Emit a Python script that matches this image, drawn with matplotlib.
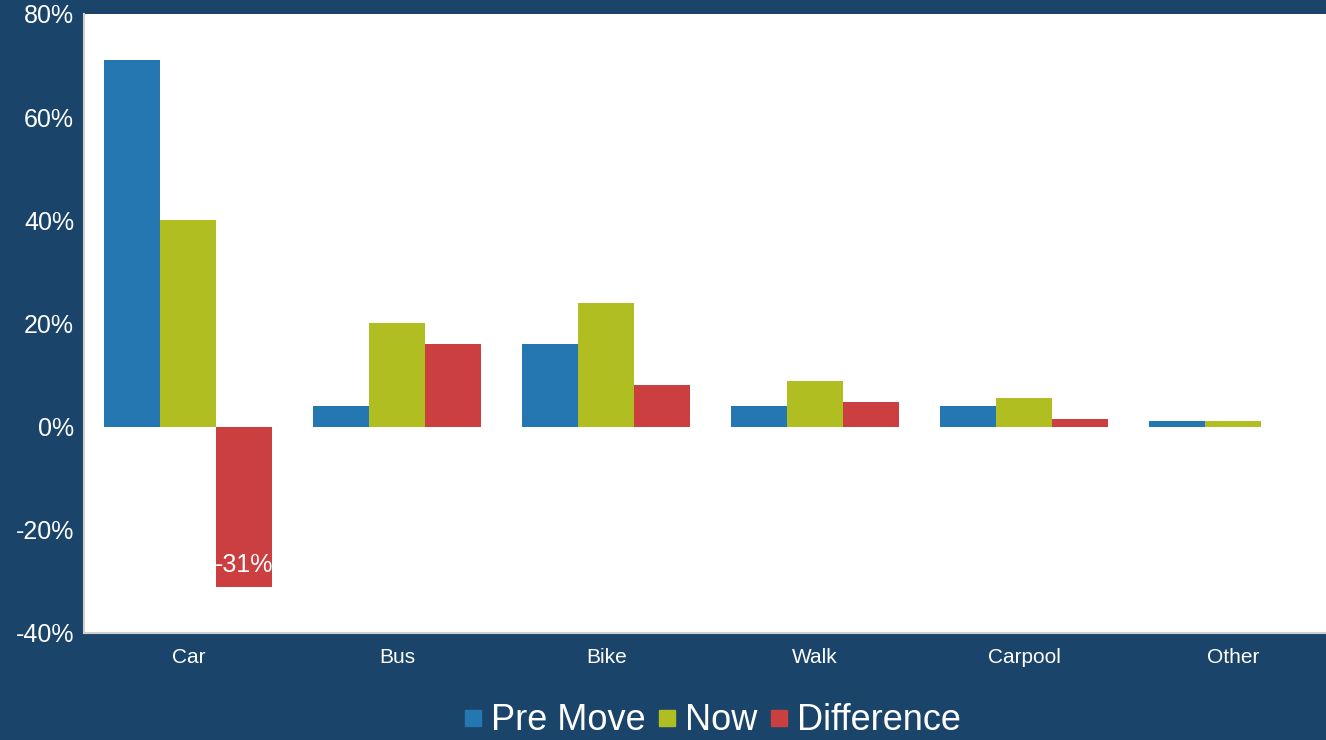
import matplotlib
matplotlib.use('Agg')
import matplotlib.pyplot as plt
import numpy as np
from matplotlib.lines import Line2D

categories = ['Car', 'Bus', 'Bike', 'Walk', 'Carpool', 'Other']
pre_move = [71, 4, 16, 4, 4, 1.1]
now = [40, 20, 24, 8.8, 5.6, 1.1]
difference = [-31, 16, 8, 4.8, 1.5, 0]
series_names = ['Pre Move', 'Now', 'Difference']
colors = ['#2577b1', '#b0be22', '#cc3f41']
yticks = [-40, -20, 0, 20, 40, 60, 80]

bg = '#1a4469'
plt.rcParams['font.family'] = ['Liberation Sans', 'DejaVu Sans']

fig = plt.figure(figsize=(13.26, 7.4), dpi=100, facecolor=bg)
ax = fig.add_axes([0.0633, 0.1446, 0.9367, 0.8365])
ax.set_facecolor('white')

x = np.arange(len(categories))
w = 0.268
for i, vals in enumerate([pre_move, now, difference]):
    ax.bar(x + (i - 1) * w, vals, width=w, color=colors[i], label=series_names[i])

# label for the negative bar
car_diff = difference[0]
ax.text(x[0] + w, car_diff + 4.2, '%d%%' % car_diff, color='white', fontsize=18,
        ha='center', va='center')

ax.set_xlim(-0.5, 5.445)
ax.set_ylim(-40, 80)
ax.set_yticks(yticks)
ax.set_yticklabels(['%d%%' % t for t in yticks], fontsize=18, color='white')
ax.set_xticks(x)
ax.set_xticklabels(categories, fontsize=15, color='white')
ax.tick_params(length=0)
ax.tick_params(axis='y', pad=7)
ax.tick_params(axis='x', pad=11)

for s in ['top', 'right']:
    ax.spines[s].set_visible(False)
for s in ['left', 'bottom']:
    ax.spines[s].set_color('#d0d0d0')
    ax.spines[s].set_linewidth(1.5)

handles = [Line2D([], [], marker='s', linestyle='none', markersize=11,
                  markerfacecolor=c, markeredgecolor=c) for c in colors]
leg = fig.legend(handles, series_names, loc='center', bbox_to_anchor=(0.5366, 0.026),
                 ncol=3, frameon=False, fontsize=26, handletextpad=0.2,
                 columnspacing=0.3, handlelength=0.6, borderaxespad=0)
for t in leg.get_texts():
    t.set_color('white')

fig.savefig('out.png', dpi=100, facecolor=bg)
